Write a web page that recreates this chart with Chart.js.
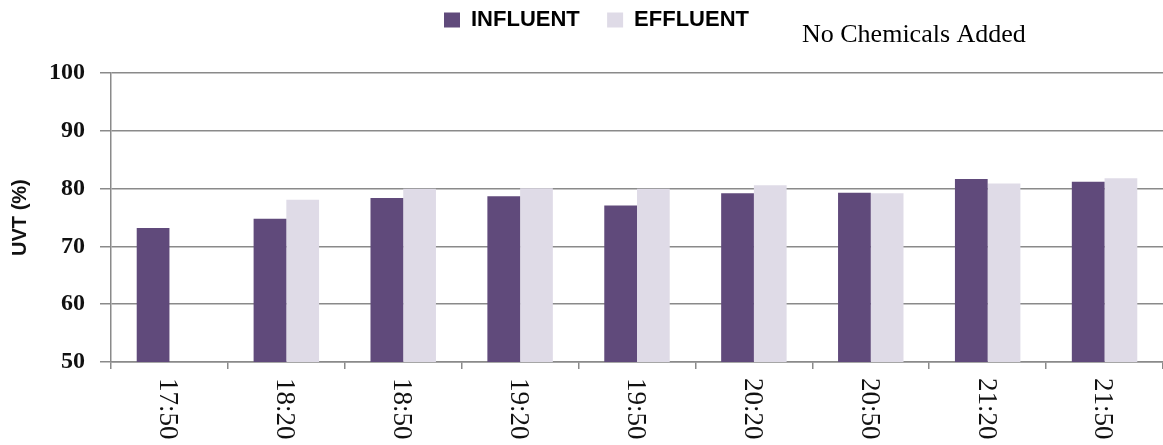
<!DOCTYPE html>
<html>
<head>
<meta charset="utf-8">
<title>UVT influent vs effluent</title>
<script src="https://cdn.jsdelivr.net/npm/chart.js@4.4.0/dist/chart.umd.min.js"></script>
<style>
  body { margin: 0; background: #fff; }
  #wrap { width: 1163px; height: 445px; position: relative; }
</style>
</head>
<body>
<div id="wrap"><canvas id="uvt"></canvas></div>
<script>
// sample times on the x axis
const times = ["17:50", "18:20", "18:50", "19:20", "19:50", "20:20", "20:50", "21:20", "21:50"];
// UVT readings (%)
const influent = [73.2, 74.8, 78.4, 78.7, 77.1, 79.2, 79.3, 81.7, 81.2];
const effluent = [null, 78.1, 80.0, 80.1, 80.0, 80.6, 79.2, 80.9, 81.8];
const yTicks = [50, 60, 70, 80, 90, 100];
const note = "No Chemicals Added";

const gridGrey = '#8a8a8a';

// x labels in the original read top-to-bottom, so draw them ourselves
const xLabelPlugin = {
  id: 'xLabels',
  afterDraw(chart) {
    const ctx = chart.ctx;
    const xs = chart.scales.x;
    ctx.save();
    ctx.font = '27px "Liberation Serif"';
    ctx.fillStyle = '#111';
    ctx.textAlign = 'left';
    ctx.textBaseline = 'middle';
    times.forEach((t, i) => {
      const x = xs.getPixelForTick(i);
      ctx.save();
      ctx.translate(x - 2, xs.top + 16);
      ctx.rotate(Math.PI / 2);
      ctx.fillText(t, 0, 0);
      ctx.restore();
    });
    // side note
    ctx.font = '26px "Liberation Serif"';
    ctx.textBaseline = 'alphabetic';
    ctx.fillStyle = '#000';
    ctx.fillText(note, 802, 42);
    ctx.restore();
  }
};

new Chart(document.getElementById('uvt'), {
  type: 'bar',
  data: {
    labels: times,
    datasets: [
      { label: 'INFLUENT', data: influent, backgroundColor: '#604A7B' },
      { label: 'EFFLUENT', data: effluent, backgroundColor: '#DFDBE7' }
    ]
  },
  options: {
    responsive: true,
    maintainAspectRatio: false,
    animation: false,
    // left padding nudges the legend to the right; y axis width makes up for it
    layout: { padding: { top: 0, right: -4, bottom: 0, left: 26 } },
    datasets: { bar: { barPercentage: 1, categoryPercentage: 0.56 } },
    plugins: {
      tooltip: { enabled: false },
      legend: {
        position: 'top',
        labels: {
          boxWidth: 16,
          boxHeight: 15,
          padding: 9,
          color: '#000',
          font: { family: '"Liberation Sans"', size: 22, weight: 'bold' },
          generateLabels(chart) {
            const items = Chart.defaults.plugins.legend.labels.generateLabels(chart);
            items[0].text = items[0].text + '   ';
            return items;
          }
        }
      },
      // empty subtitle used only as a spacer below the legend
      subtitle: {
        display: true,
        text: '',
        weight: 500,
        font: { size: 1 },
        padding: { top: 0, bottom: 31 }
      }
    },
    scales: {
      x: {
        offset: true,
        grid: { offset: true, drawOnChartArea: false, drawTicks: true, tickLength: 7, color: gridGrey, lineWidth: 1.5 },
        border: { color: gridGrey, width: 1.5 },
        ticks: { display: false },
        afterFit(scale) { scale.height = 83; }
      },
      y: {
        min: yTicks[0],
        max: yTicks[yTicks.length - 1],
        afterBuildTicks(scale) { scale.ticks = yTicks.map(v => ({ value: v })); },
        grid: { color: gridGrey, lineWidth: 1.5, tickLength: 11 },
        border: { color: gridGrey, width: 1.5 },
        ticks: {
          padding: 15,
          color: '#111',
          font: { family: '"Liberation Serif"', size: 24, weight: 'bold' }
        },
        title: {
          display: true,
          text: 'UVT (%)',
          color: '#111',
          padding: { top: -18, bottom: 0 },
          font: { family: '"Liberation Sans"', size: 20, weight: 'bold' }
        },
        afterFit(scale) { scale.width = 85; }
      }
    }
  },
  plugins: [xLabelPlugin]
});
</script>
</body>
</html>
